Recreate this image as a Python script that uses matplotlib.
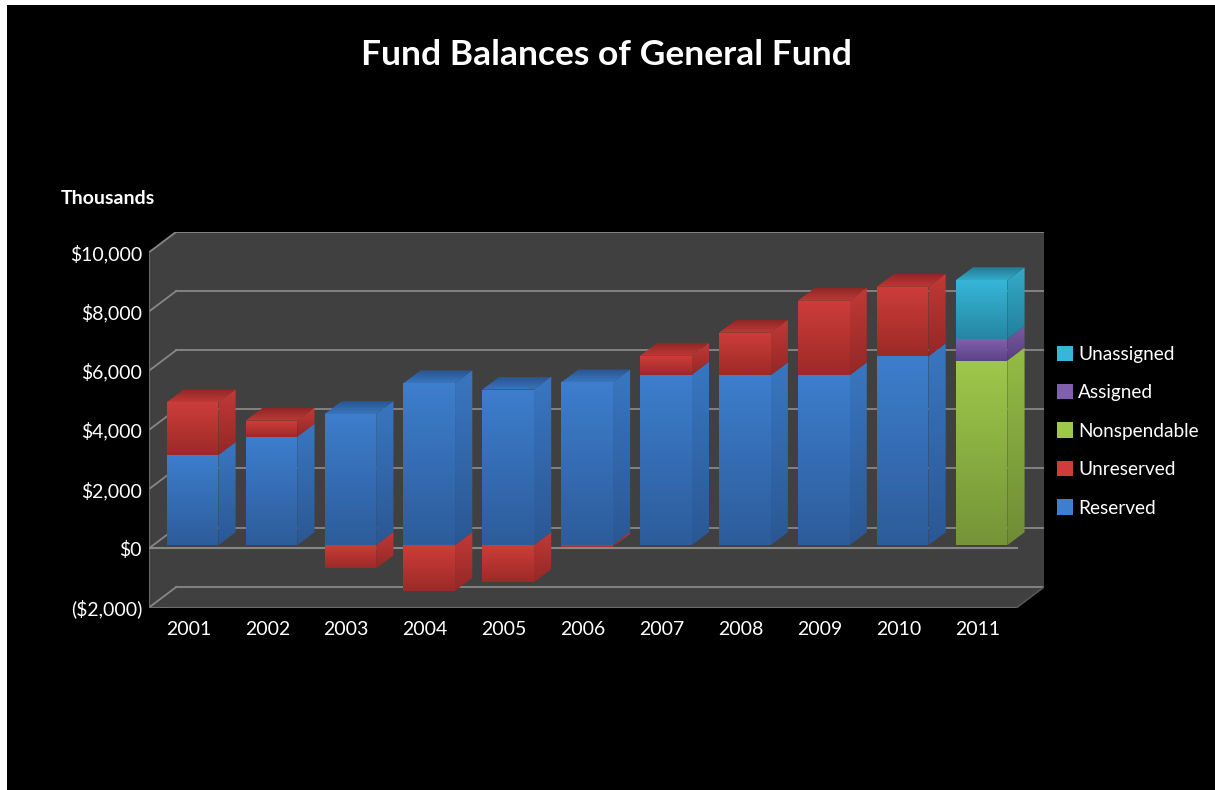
import numpy as np
import matplotlib
matplotlib.use("Agg")
import matplotlib.pyplot as plt
from matplotlib.patches import Polygon, Patch, Rectangle
from matplotlib.colors import LinearSegmentedColormap

plt.rcParams['font.family'] = ['Lato', 'DejaVu Sans']

years = ['2001', '2002', '2003', '2004', '2005', '2006', '2007', '2008', '2009', '2010', '2011']
reserved = [3050, 3670, 4430, 5470, 5260, 5500, 5760, 5740, 5740, 6380, 0]
unreserved = [1780, 540, -780, -1540, -1250, -60, 640, 1440, 2520, 2350, 0]
nonspendable = [0, 0, 0, 0, 0, 0, 0, 0, 0, 0, 6240]
assigned = [0, 0, 0, 0, 0, 0, 0, 0, 0, 0, 720]
unassigned = [0, 0, 0, 0, 0, 0, 0, 0, 0, 0, 1990]

yticks = [-2000, 0, 2000, 4000, 6000, 8000, 10000]
ylabels = ['($2,000)', '$0', '$2,000', '$4,000', '$6,000', '$8,000', '$10,000']

# series in stacking order with (light, dark) gradient colours
series = [
    ('Reserved', reserved, '#3d7ecd', '#2d5c9b'),
    ('Unreserved', unreserved, '#cd3d3a', '#9c2a28'),
    ('Nonspendable', nonspendable, '#9ec84a', '#759438'),
    ('Assigned', assigned, '#8060ad', '#5c4285'),
    ('Unassigned', unassigned, '#37b6d7', '#2586a3'),
]

# oblique depth offset (category units, value units)
DX, DY = 0.347, 696
F0, F1 = 0.15, 0.78   # front / back depth of the columns
W = 0.655             # column width
XMIN, XMAX = -0.5, 10.5
YMIN, YMAX = -2000, 10000

fig = plt.figure(figsize=(12.15, 7.9), dpi=100, facecolor='white')
fig.patches.append(Rectangle((7 / 1215, 0), 1, 1 - 5 / 790, transform=fig.transFigure,
                             facecolor='black', edgecolor='none', zorder=-10))
ax = fig.add_axes([149 / 1215, 1 - 607.5 / 790, 895.2 / 1215, 375.8 / 790])
ax.set_facecolor('none')


def shade(verts, top, bottom, z):
    poly = Polygon(verts, closed=True, facecolor='none', edgecolor='none', zorder=z)
    ax.add_patch(poly)
    xs = [v[0] for v in verts]
    ys = [v[1] for v in verts]
    cmap = LinearSegmentedColormap.from_list('g', [bottom, top])
    grad = np.linspace(0, 1, 128).reshape(-1, 1)
    im = ax.imshow(grad, cmap=cmap, origin='lower', aspect='auto', interpolation='bilinear',
                   extent=[min(xs), max(xs), min(ys), max(ys)], zorder=z)
    im.set_clip_path(poly)


def darker(c, k):
    r, g, b = matplotlib.colors.to_rgb(c)
    return (r * k, g * k, b * k)


# walls and floor
wall = [(XMIN, YMIN), (XMIN, YMAX), (XMIN + DX, YMAX + DY), (XMAX + DX, YMAX + DY),
        (XMAX + DX, YMIN + DY), (XMAX, YMIN)]
ax.add_patch(Polygon(wall, closed=True, facecolor='#404040', edgecolor='none', zorder=0))

grid_c = '#878787'
for v in yticks:
    ax.plot([XMIN + DX, XMAX + DX], [v + DY, v + DY], color=grid_c, lw=1.3, zorder=1)
    ax.plot([XMIN, XMIN + DX], [v, v + DY], color=grid_c, lw=1.3, zorder=1)
ax.plot([XMIN, XMIN], [YMIN, YMAX], color='#6e6e6e', lw=1.3, zorder=1)
ax.plot([XMIN, XMAX], [0, 0], color=grid_c, lw=1.5, zorder=1)
ax.plot([XMIN, XMAX], [YMIN, YMIN], color='#6e6e6e', lw=1.5, zorder=1)
ax.plot([XMAX, XMAX + DX], [YMIN, YMIN + DY], color='#555555', lw=1.2, zorder=1)

# stacked columns
for i in range(len(years)):
    pos_base, neg_base = 0, 0
    segs = []
    for name, vals, light, dark in series:
        v = vals[i]
        if v > 0:
            segs.append((pos_base, pos_base + v, light, dark))
            pos_base += v
        elif v < 0:
            segs.append((neg_base + v, neg_base, light, dark))
            neg_base += v
    z = 3 + i * 0.1
    x0 = i - W / 2 + F0 * DX
    x1 = i + W / 2 + F0 * DX
    ddx = (F1 - F0) * DX
    ddy = (F1 - F0) * DY
    for lo, hi, light, dark in segs:
        lo0, hi0 = lo + F0 * DY, hi + F0 * DY
        shade([(x0, lo0), (x1, lo0), (x1, hi0), (x0, hi0)], light, dark, z)
        shade([(x1, lo0), (x1 + ddx, lo0 + ddy), (x1 + ddx, hi0 + ddy), (x1, hi0)],
              darker(light, 0.94), darker(dark, 0.95), z + 0.01)
    top = max(segs, key=lambda s: s[1])
    hi0 = top[1] + F0 * DY
    shade([(x0, hi0), (x1, hi0), (x1 + ddx, hi0 + ddy), (x0 + ddx, hi0 + ddy)],
          darker(top[3], 0.92), darker(top[2], 0.93), z + 0.02)

ax.set_xlim(XMIN, XMAX + DX)
ax.set_ylim(YMIN, YMAX + DY)
ax.set_xticks(range(len(years)))
ax.set_xticklabels(years)
ax.set_yticks(yticks)
ax.set_yticklabels(ylabels)
ax.tick_params(length=0, colors='white', labelsize=14)
ax.tick_params(axis='x', pad=10)
ax.tick_params(axis='y', pad=5)
for s in ax.spines.values():
    s.set_visible(False)

fig.text(606 / 1215, 1 - 55 / 790, 'Fund Balances of General Fund', color='white',
         fontsize=25.5, fontweight='bold', ha='center', va='center')
fig.text(61 / 1215, 1 - 198 / 790, 'Thousands', color='white', fontsize=14,
         fontweight='bold', ha='left', va='center')

handles = [Patch(facecolor=s[2], edgecolor='none', label=s[0]) for s in reversed(series)]
fig.legend(handles=handles, loc='upper left', bbox_to_anchor=(1047 / 1215, 1 - 336 / 790),
           frameon=False, fontsize=13.7, labelcolor='white', handlelength=0.85,
           handleheight=0.85, handletextpad=0.3, labelspacing=1.12, borderpad=0)

fig.savefig('out.png', dpi=100, facecolor=fig.get_facecolor())
